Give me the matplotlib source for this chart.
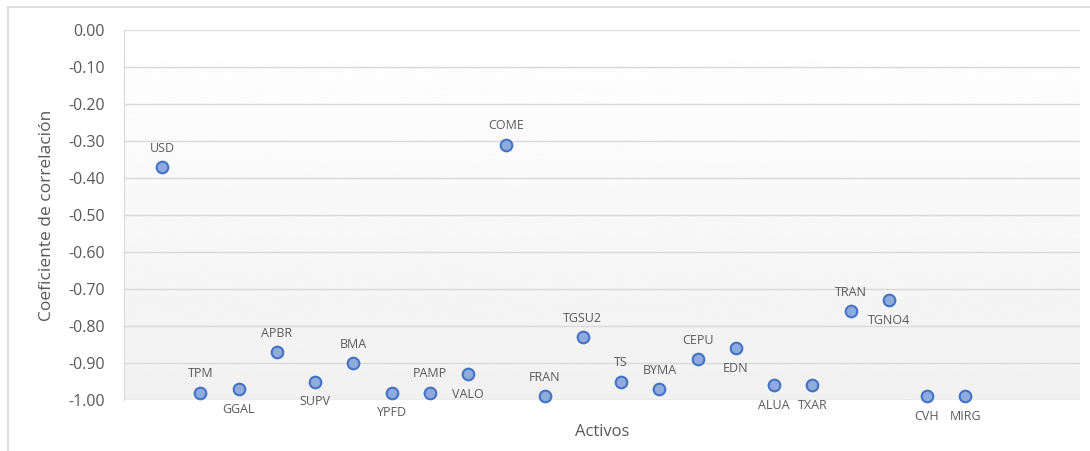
import matplotlib
matplotlib.use("Agg")
import matplotlib.pyplot as plt
import numpy as np
from matplotlib.lines import Line2D

activos = ["USD", "TPM", "GGAL", "APBR", "SUPV", "BMA", "YPFD", "PAMP", "VALO", "COME", "FRAN",
           "TGSU2", "TS", "BYMA", "CEPU", "EDN", "ALUA", "TXAR", "TRAN", "TGNO4", "CVH", "MIRG"]
coef = [-0.37, -0.98, -0.97, -0.87, -0.95, -0.90, -0.98, -0.98, -0.93, -0.31, -0.99,
        -0.83, -0.95, -0.97, -0.89, -0.86, -0.96, -0.96, -0.76, -0.73, -0.99, -0.99]
label_pos = ["above", "above", "below", "above", "below", "above", "below", "above", "below",
             "above", "above", "above", "above", "above", "above", "below", "below", "below",
             "above", "below", "below", "below"]
yticks = [0.0, -0.1, -0.2, -0.3, -0.4, -0.5, -0.6, -0.7, -0.8, -0.9, -1.0]

plt.rcParams['font.family'] = ['Open Sans', 'DejaVu Sans']

fig = plt.figure(figsize=(10.9, 4.51), dpi=100)
ax = fig.add_axes([124/1090, (451-400)/451, (1080-124)/1090, 370/451])

x = np.arange(1, len(activos) + 1)

# gradient background of plot area
grad = np.linspace(1.0, 0.945, 256).reshape(-1, 1)
ax.imshow(grad, cmap='gray', vmin=0, vmax=1, aspect='auto', extent=(0, 25, -1, 0),
          zorder=0, interpolation='bicubic')

ax.set_xlim(0, 25)
ax.set_ylim(-1.0, 0.0)
ax.set_yticks(yticks)
ax.set_yticklabels([f"{t:.2f}" for t in yticks])
ax.set_xticks([])
ax.yaxis.grid(True, color='#d9d9d9', linewidth=1.0, zorder=1)
ax.set_axisbelow(True)
for s in ['top', 'right', 'bottom']:
    ax.spines[s].set_visible(False)
ax.spines['left'].set_color('#d9d9d9')
ax.tick_params(axis='y', length=0, pad=14, labelsize=11.5, labelcolor='#595959')

ax.scatter(x, coef, s=70, facecolor='#8faadc', edgecolor='#4472c4', linewidth=1.5, zorder=3, clip_on=False)

for xi, yi, name, pos in zip(x, coef, activos, label_pos):
    off = 13.5 if pos == "above" else -14.5
    ax.annotate(name, (xi, yi), xytext=(0, off), textcoords='offset points',
                ha='center', va='center', fontsize=9, color='#595959', zorder=4,
                annotation_clip=False)

ax.set_ylabel("Coeficiente de correlación", fontsize=12.5, color='#595959', labelpad=9)
ax.set_xlabel("Activos", fontsize=12, color='#595959', labelpad=17)

# chart outer border (left and top visible)
fig.add_artist(Line2D([8/1090, 8/1090], [0, 1 - 7/451], transform=fig.transFigure, color='#d9d9d9', linewidth=1.2))
fig.add_artist(Line2D([8/1090, 1], [1 - 7/451, 1 - 7/451], transform=fig.transFigure, color='#d9d9d9', linewidth=1.2))

fig.savefig("out.png", dpi=100)
